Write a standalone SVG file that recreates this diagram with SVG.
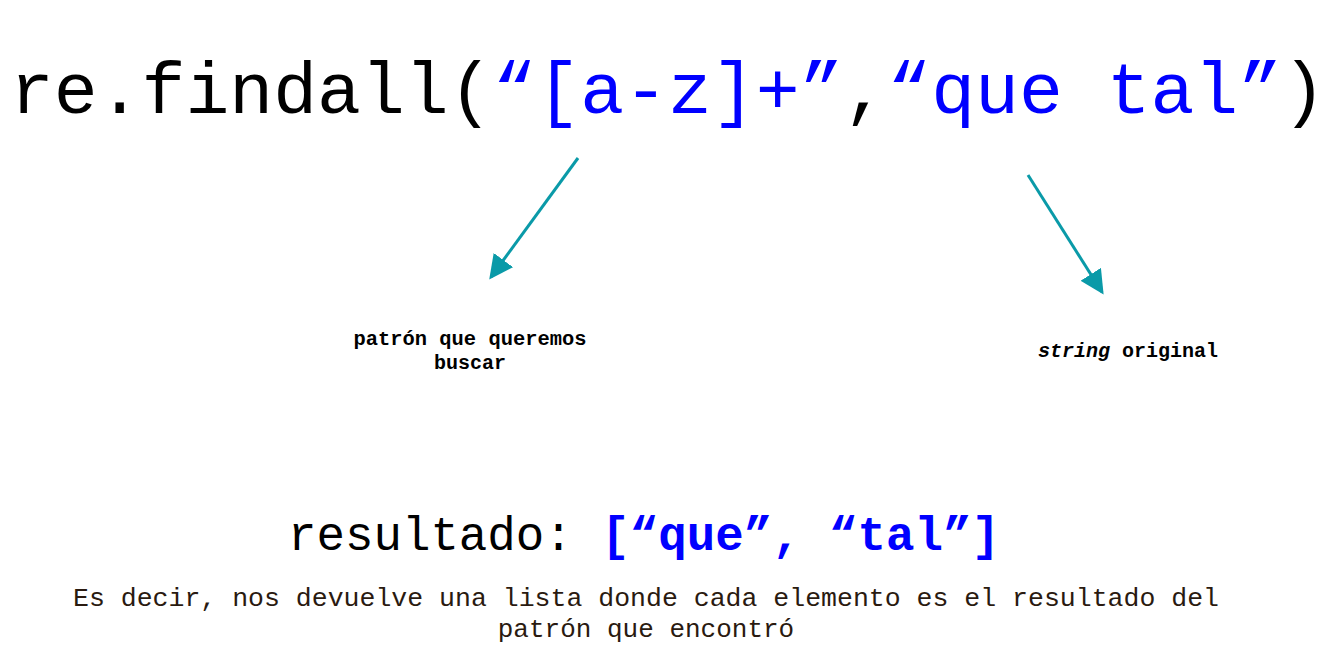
<svg xmlns="http://www.w3.org/2000/svg" width="1326" height="666" viewBox="0 0 1326 666">
<defs>
<style>
.mono{font-family:"Liberation Mono","Courier New",monospace;}
.blue{fill:#0000ff;}
.blk{fill:#000;}
.lbl{font-size:20px;font-weight:bold;fill:#000;}
.conn{stroke:#0a9aa8;stroke-width:3;fill:none;}
</style>
<marker id="ah" markerWidth="8" markerHeight="8" refX="7" refY="4" orient="auto" markerUnits="strokeWidth">
<path d="M0,0 L8,4 L0,8 Z" fill="#0a9aa8"/>
</marker>
</defs>
<rect width="1326" height="666" fill="#fff"/>
<g id="title">
<text class="mono" x="10" y="113" font-size="72" textLength="1316" lengthAdjust="spacingAndGlyphs"><tspan class="blk">re.findall(</tspan><tspan class="blue">“[a-z]+”</tspan><tspan class="blk">,</tspan><tspan class="blue">“que tal”</tspan><tspan class="blk">)</tspan></text>
</g>
<g id="connectors">
<line class="conn" x1="578" y1="158" x2="491" y2="277" marker-end="url(#ah)"/>
<line class="conn" x1="1028" y1="175" x2="1102" y2="292" marker-end="url(#ah)"/>
</g>
<g id="label-pattern">
<text class="mono lbl" x="470" y="345" text-anchor="middle" textLength="233" lengthAdjust="spacingAndGlyphs">patrón que queremos</text>
<text class="mono lbl" x="470" y="369" text-anchor="middle">buscar</text>
</g>
<g id="label-string">
<text class="mono lbl" x="1128" y="357" text-anchor="middle"><tspan font-style="italic">string</tspan> original</text>
</g>
<g id="result">
<text class="mono" x="288" y="550" font-size="47.5" textLength="712" lengthAdjust="spacingAndGlyphs"><tspan class="blk">resultado: </tspan><tspan class="blue" font-weight="bold">[“que”, “tal”]</tspan></text>
</g>
<g id="explanation">
<text class="mono" x="73" y="606" font-size="26" fill="#2a1a10" textLength="1146" lengthAdjust="spacingAndGlyphs">Es decir, nos devuelve una lista donde cada elemento es el resultado del</text>
<text class="mono" x="646" y="637" font-size="26" fill="#2a1a10" text-anchor="middle">patrón que encontró</text>
</g>
</svg>
